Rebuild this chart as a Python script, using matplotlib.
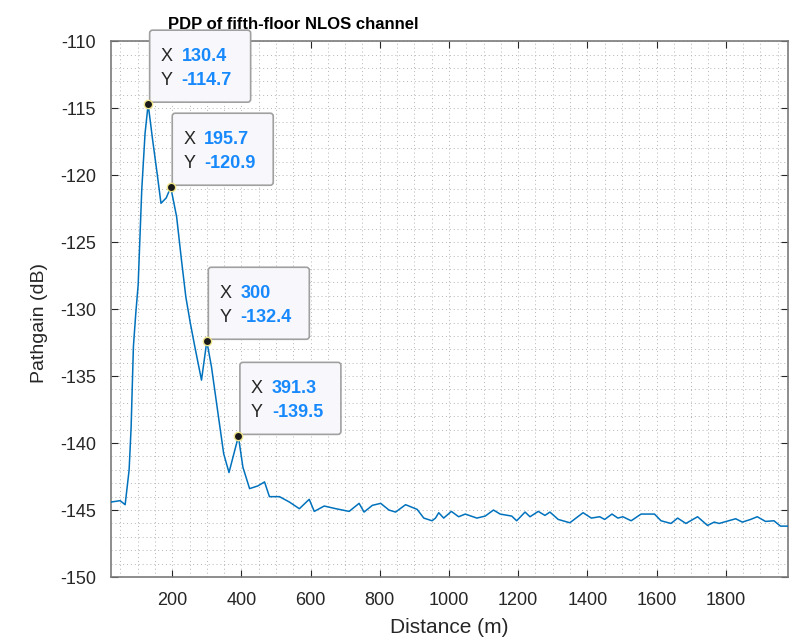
import matplotlib
matplotlib.use("Agg")
import matplotlib.pyplot as plt
from matplotlib.patches import FancyBboxPatch
from matplotlib.transforms import IdentityTransform

# traced curve (distance in m, path gain in dB)
dist = [23.6, 49.5, 63.9, 75.4, 81.2, 87.8, 94.7, 101.5, 111.9, 121.4, 130.4,
        143.5, 156.5, 167.5, 182.6, 195.7, 212.7, 227.0, 239.4, 252.0, 265.3,
        284.6, 300.0, 313.4, 332.4, 348.8, 364.1, 391.3, 404.3, 423.6, 447.5,
        466.8, 481.0, 510.0, 538.6, 567.5, 596.0, 610.6, 639.4, 673.0, 711.4,
        740.2, 754.5, 778.4, 802.6, 826.5, 845.7, 874.5, 908.0, 927.2, 951.1,
        961.0, 970.4, 984.7, 1006.9, 1027.9, 1047.2, 1080.6, 1104.7, 1128.6,
        1147.9, 1181.3, 1195.7, 1219.9, 1234.2, 1258.1, 1277.4, 1291.8, 1315.7,
        1349.4, 1387.6, 1411.5, 1435.7, 1450.1, 1471.1, 1488.3, 1502.7, 1526.6,
        1555.4, 1594.0, 1613.0, 1641.7, 1661.0, 1684.9, 1718.6, 1747.3, 1766.6,
        1781.0, 1828.8, 1848.0, 1871.9, 1891.2, 1915.1, 1939.3, 1958.3, 1980.0]
gain = [-144.4, -144.3, -144.6, -142.0, -138.8, -132.8, -130.3, -128.2, -121.1,
        -116.9, -114.7, -117.4, -119.9, -122.1, -121.7, -120.9, -123.1, -126.4,
        -129.1, -131.0, -132.8, -135.3, -132.4, -134.3, -137.8, -140.8, -142.2,
        -139.5, -141.8, -143.4, -143.2, -142.9, -144.0, -144.0, -144.4, -144.9,
        -144.2, -145.1, -144.7, -144.9, -145.1, -144.5, -145.15, -144.65, -144.5,
        -145.0, -145.15, -144.6, -144.95, -145.6, -145.8, -145.6, -145.2, -145.6,
        -145.1, -145.5, -145.3, -145.6, -145.45, -145.0, -145.3, -145.45, -145.8,
        -145.15, -145.5, -145.1, -145.4, -145.15, -145.7, -145.95, -145.2, -145.6,
        -145.5, -145.7, -145.3, -145.6, -145.5, -145.8, -145.3, -145.3, -145.8,
        -146.0, -145.6, -146.0, -145.5, -146.15, -145.9, -146.0, -145.65, -145.9,
        -145.7, -145.5, -145.85, -145.8, -146.2, -146.2]

# data tips
tip_x = [130.4, 195.7, 300, 391.3]
tip_y = [-114.7, -120.9, -132.4, -139.5]
tip_xlabel = ["130.4", "195.7", "300", "391.3"]
tip_ylabel = ["-114.7", "-120.9", "-132.4", "-139.5"]

xticks = [200, 400, 600, 800, 1000, 1200, 1400, 1600, 1800]
yticks = [-150, -145, -140, -135, -130, -125, -120, -115, -110]

plt.rcParams['font.family'] = ['Liberation Sans', 'DejaVu Sans']
plt.rcParams['axes.unicode_minus'] = False

fig = plt.figure(figsize=(8, 6.44), dpi=100)
ax = fig.add_axes([0.139, 0.104, 0.846, 0.832])

ax.plot(dist, gain, color='#0072BD', lw=1.1, zorder=3)

ax.set_xlim(23.6, 1980)
ax.set_ylim(-150, -110)
ax.set_xticks(xticks)
ax.set_yticks(yticks)
ax.set_xticks(range(50, 1980, 50), minor=True)
ax.set_yticks(range(-149, -110, 1), minor=True)
ax.grid(which='both', color='#b4b4b4', ls=(0, (1, 3)), lw=0.7)
ax.tick_params(which='major', direction='in', length=5, top=True, right=True,
               labelsize=13, colors='#262626', width=0.8, pad=11)
ax.tick_params(which='minor', length=0)
for s in ax.spines.values():
    s.set_color('#7a7a7a')
    s.set_linewidth(1.2)

ax.set_xlabel('Distance (m)', fontsize=15, color='#262626', labelpad=6)
ax.set_ylabel('Pathgain (dB)', fontsize=14, color='#262626')
ax.yaxis.set_label_coords(-0.093, 0.474)
ax.set_title('PDP of fifth-floor NLOS channel', fontsize=12, fontweight='bold',
             x=0.269, pad=9)

ax.plot(tip_x, tip_y, 'o', ms=6, mfc='#1a1a1a', mec='#f0e68c', mew=1, zorder=6)

# datatip boxes, sized in pixels, anchored at each tip point
for x, y, lx, ly in zip(tip_x, tip_y, tip_xlabel, tip_ylabel):
    px, py = ax.transData.transform((x, y))
    left, bottom = px + 1.5, py + 2
    box = FancyBboxPatch((left, bottom), 101, 72,
                         boxstyle='round,pad=0,rounding_size=3',
                         fc='#f8f8fc', ec='#a0a0a0', lw=1.2,
                         transform=IdentityTransform(), clip_on=False, zorder=5)
    ax.add_patch(box)
    for label, val, dy in (('X', lx, 41), ('Y', ly, 17)):
        ax.text(left + 11, bottom + dy, label, transform=IdentityTransform(),
                fontsize=13, color='#262626', va='baseline', zorder=7)
        ax.text(left + 32, bottom + dy, val, transform=IdentityTransform(),
                fontsize=13, color='#1789fc', fontweight='bold',
                va='baseline', zorder=7)

fig.savefig('out.png', dpi=100)
